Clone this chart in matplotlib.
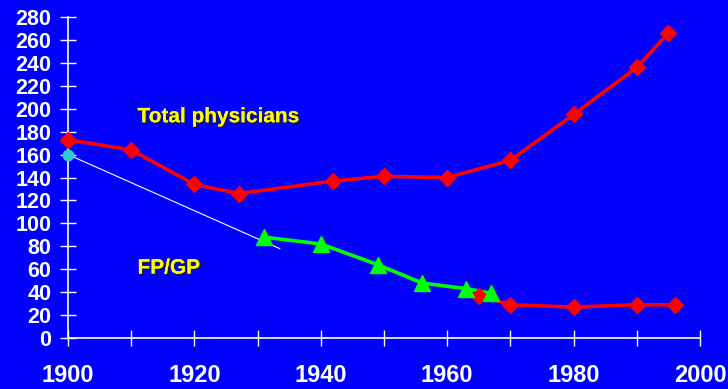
import matplotlib.pyplot as plt
import matplotlib.patheffects as pe

plt.rcParams['font.family'] = ['Liberation Sans', 'DejaVu Sans']
plt.rcParams['font.weight'] = 'bold'

BLUE = '#0000FF'

# total physicians per 100,000 population
total_years = [1900, 1910, 1920, 1927, 1942, 1950, 1960, 1970, 1980, 1990, 1995]
total_vals = [173, 164, 134, 126, 137, 141, 140, 155, 195, 236, 266]

# general / family practitioners
fpgp_years = [1931, 1940, 1949, 1956, 1963, 1967]
fpgp_vals = [88, 82, 64, 48, 43, 39]

late_years = [1965, 1970, 1980, 1990, 1996]
late_vals = [37, 29, 27, 29, 29]

# trend line drawn from 1900
trend_years = [1900, 1933.5]
trend_vals = [160, 78]

fig = plt.figure(figsize=(7.28, 3.89), dpi=100, facecolor=BLUE)
ax = fig.add_axes([68 / 728, 51 / 389, 632 / 728, 321 / 389], facecolor=BLUE)

ax.plot(trend_years, trend_vals, color='white', lw=0.8, zorder=2)
ax.plot(trend_years[:1], trend_vals[:1], 'o', color='#33CCCC', ms=7.5, zorder=6,
        clip_on=False)
ax.plot(total_years, total_vals, color='#FF0000', lw=2.6, marker='D', ms=8,
        zorder=4, clip_on=False)
# green line under the late red series, green markers on top
ax.plot(fpgp_years, fpgp_vals, color='#00FF00', lw=2.6, zorder=3)
ax.plot(late_years, late_vals, color='#FF0000', lw=2.6, marker='D', ms=8,
        zorder=4, clip_on=False)
ax.plot(fpgp_years, fpgp_vals, '^', color='#00FF00', ms=11, zorder=5,
        clip_on=False)

shadow = [pe.withSimplePatchShadow(offset=(1.2, -1.2), shadow_rgbFace='#202020',
                                   alpha=0.9), pe.Normal()]
ax.text(1911, 193, 'Total physicians', color='#FFFF00', fontsize=15,
        fontweight='bold', va='center', path_effects=shadow)
ax.text(1911, 61, 'FP/GP', color='#FFFF00', fontsize=15,
        fontweight='bold', va='center', path_effects=shadow)

ax.set_xlim(1900, 2000)
ax.set_ylim(0, 280)
ax.set_xticks(range(1900, 2001, 20))
ax.set_xticks(range(1910, 2000, 20), minor=True)
ax.set_yticks(range(0, 281, 20))

for side in ['top', 'right']:
    ax.spines[side].set_visible(False)
for side in ['left', 'bottom']:
    ax.spines[side].set_color('white')
    ax.spines[side].set_linewidth(1.2)

ax.tick_params(axis='both', which='both', colors='white', direction='inout',
               length=12, width=1)
ax.tick_params(axis='x', labelsize=17, pad=13)
ax.tick_params(axis='y', labelsize=15.5, pad=6)
for lab in ax.get_xticklabels() + ax.get_yticklabels():
    lab.set_fontweight('bold')

fig.savefig('out.png', dpi=100, facecolor=BLUE)
